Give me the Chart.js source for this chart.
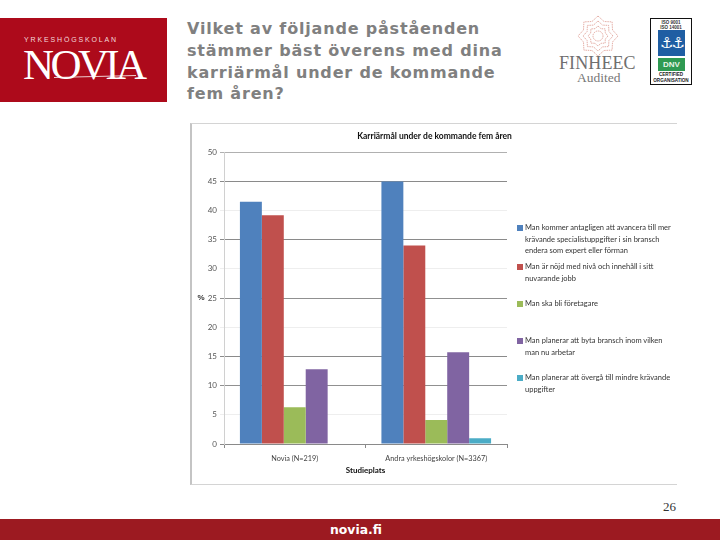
<!DOCTYPE html>
<html lang="sv">
<head>
<meta charset="utf-8">
<title>Karriärmål</title>
<script src="https://cdn.jsdelivr.net/npm/chart.js@4"></script>
<style>
  html,body{margin:0;padding:0;background:#fff;}
  #slide{position:relative;width:720px;height:540px;overflow:hidden;background:#fff;}
  .abs{position:absolute;white-space:nowrap;}
  #logo{position:absolute;left:0;top:18px;width:167px;height:84px;background:#ad0a1b;}
  #heading{left:187px;top:18px;font:bold 16px/21.8px "DejaVu Sans",sans-serif;letter-spacing:0.82px;color:#808080;}
  #frame{position:absolute;left:190px;top:123px;width:487px;height:362px;box-sizing:border-box;border:1px solid #d4d4d4;border-left:2px solid #c4c4c4;border-right:none;}
  #frame canvas{position:absolute;left:0;top:0;}
  #legend div.item{position:absolute;left:525px;font:7.5px/11.6px Lato,sans-serif;color:#333;white-space:nowrap;}
  #legend i{position:absolute;left:-8px;top:3px;width:6px;height:6px;}
  #footer{position:absolute;left:0;top:519px;width:712px;padding-right:8px;height:21px;background:#9c1a21;color:#fff;text-align:center;font:bold 12.4px/21px "DejaVu Sans",sans-serif;}
</style>
</head>
<body>
<div id="slide">
  <div id="logo">
    <div class="abs" style="left:24px;top:18px;font:7px/8px 'Liberation Sans',sans-serif;letter-spacing:1.85px;color:#f3d9dc;">YRKESHÖGSKOLAN</div>
    <div class="abs" style="left:23px;top:24px;font:43px/46px 'Liberation Serif',serif;letter-spacing:-3.6px;color:#fff;">NOVIA</div>
    <div class="abs" style="left:54px;top:58px;width:82px;height:1px;background:#fff;opacity:.8;transform:rotate(-1.5deg);"></div>
  </div>
  <div id="heading" class="abs">Vilket av följande påståenden<br>stämmer bäst överens med dina<br>karriärmål under de kommande<br>fem åren?</div>

  <svg class="abs" style="left:575px;top:13px;" width="46" height="46" viewBox="-23 -23 46 46" fill="none" stroke="#d98b80" stroke-width="0.7" stroke-dasharray="1.5 0.8">
    <polygon points="0,-20 6,-14.5 14.1,-14.1 14.5,-6 20,0 14.5,6 14.1,14.1 6,14.5 0,20 -6,14.5 -14.1,14.1 -14.5,6 -20,0 -14.5,-6 -14.1,-14.1 -6,-14.5"/>
    <polygon points="0,-15 4.5,-10.9 10.6,-10.6 10.9,-4.5 15,0 10.9,4.5 10.6,10.6 4.5,10.9 0,15 -4.5,10.9 -10.6,10.6 -10.9,4.5 -15,0 -10.9,-4.5 -10.6,-10.6 -4.5,-10.9"/>
    <polygon points="0,-10 3,-7.3 7.1,-7.1 7.3,-3 10,0 7.3,3 7.1,7.1 3,7.3 0,10 -3,7.3 -7.1,7.1 -7.3,3 -10,0 -7.3,-3 -7.1,-7.1 -3,-7.3"/>
    <circle r="5"/>
  </svg>
  <div class="abs" style="left:559px;top:52px;font:18px/22px 'Liberation Serif',serif;letter-spacing:0.1px;color:#6f6f6f;">FINHEEC</div>
  <div class="abs" style="left:577px;top:70px;font:13.5px/16px 'Liberation Serif',serif;color:#777;">Audited</div>

  <div class="abs" style="left:650px;top:18px;width:42px;height:67px;box-sizing:border-box;border:1px solid #111;background:#fff;">
    <div class="abs" style="left:0;width:40px;top:1px;text-align:center;font:bold 4.5px/5px 'Liberation Sans',sans-serif;color:#333;">ISO 9001<br>ISO 14001</div>
    <div class="abs" style="left:7px;top:11px;width:27px;height:26px;background:#1f5ea3;color:#fff;text-align:center;font:15px/26px 'DejaVu Sans',sans-serif;letter-spacing:-2px;">⚓⚓</div>
    <div class="abs" style="left:7px;top:39px;width:27px;height:13px;background:#2f9a52;color:#e8f5e8;text-align:center;font:bold 8px/13px 'Liberation Sans',sans-serif;">DNV</div>
    <div class="abs" style="left:0;width:40px;top:53px;text-align:center;font:bold 4.6px/6px 'Liberation Sans',sans-serif;color:#222;">CERTIFIED<br>ORGANISATION</div>
  </div>

  <div id="frame"><canvas id="chart" width="485" height="360"></canvas></div>
  <div id="legend"></div>
  <div class="abs" style="left:201px;top:293px;transform:translateX(-50%);font:bold 8px/10px 'Liberation Sans',sans-serif;color:#333;">%</div>

  <div class="abs" style="left:663px;top:499px;font:13px/16px 'Liberation Serif',serif;color:#333;">26</div>
  <div id="footer">novia.fi</div>
</div>

<script>
const categories = ['Novia (N=219)', 'Andra yrkeshögskolor (N=3367)'];
const seriesNames = [
  ['Man kommer antagligen att avancera till mer', 'krävande specialistuppgifter i sin bransch', 'endera som expert eller förman'],
  ['Man är nöjd med nivå och innehåll i sitt', 'nuvarande jobb'],
  ['Man ska bli företagare'],
  ['Man planerar att byta bransch inom vilken', 'man nu arbetar'],
  ['Man planerar att övergå till mindre krävande', 'uppgifter']
];
const avancera = [41.5, 45];
const nojd = [39.2, 34];
const foretagare = [6.3, 4.1];
const bytaBransch = [12.8, 15.7];
const overga = [null, 1];
const seriesColors = ['#4f81bd', '#c0504d', '#9bbb59', '#8064a2', '#4bacc6'];
const legendTops = [222, 261, 298, 335, 372];
const gridColors = {50:'#b0b0b0', 45:'#8a8a8a', 40:'#eeeeee', 35:'#8a8a8a', 30:'#eeeeee', 25:'#909090', 20:'#eeeeee', 15:'#8a8a8a', 10:'#909090', 5:'#eeeeee', 0:'#8a8a8a'};

const values = [avancera, nojd, foretagare, bytaBransch, overga];

document.getElementById('legend').innerHTML = seriesNames.map((lines,i)=>
  `<div class="item" style="top:${legendTops[i]}px"><i style="background:${seriesColors[i]}"></i>${lines.join('<br>')}</div>`
).join('');

new Chart(document.getElementById('chart'), {
  type:'bar',
  data:{ labels:categories, datasets: values.map((v,i)=>({
    label:seriesNames[i].join(' '), data:v, backgroundColor:seriesColors[i], borderWidth:0,
    categoryPercentage:0.775, barPercentage:1
  }))},
  options:{ responsive:false, animation:false, layout:{padding:0},
    plugins:{ legend:{display:false}, tooltip:{enabled:false},
      title:{display:true, text:'Karriärmål under de kommande fem åren', color:'#111',
        font:{family:'Lato', size:8.5, weight:'bold'}, padding:{top:7, bottom:11}} },
    scales:{
      x:{ grid:{drawOnChartArea:false, tickLength:4, tickColor:'#8a8a8a'},
        border:{color:'#8a8a8a'},
        ticks:{color:'#444', font:{family:'Lato', size:7.3}, padding:6, maxRotation:0},
        title:{display:true, text:'Studieplats', color:'#111', font:{family:'Lato', size:8, weight:'bold'}, padding:{top:0, bottom:9}},
        afterFit:s=>{ s.height=40; } },
      y:{ min:0, max:50,
        grid:{color:c=>gridColors[c.tick.value], tickColor:c=>gridColors[c.tick.value], tickLength:4},
        border:{color:'#d0d0d0'},
        ticks:{stepSize:5, color:'#555', font:{family:'Lato', size:8}, padding:3},
        afterFit:s=>{ s.width=32; } },
      // empty axis keeping the legend's column free, title stays centred on the whole frame
      legendGap:{ position:'right', display:true, grid:{display:false}, border:{display:false},
        ticks:{display:false}, afterFit:s=>{ s.width=170; } }
    }
  }
});
</script>
</body>
</html>
